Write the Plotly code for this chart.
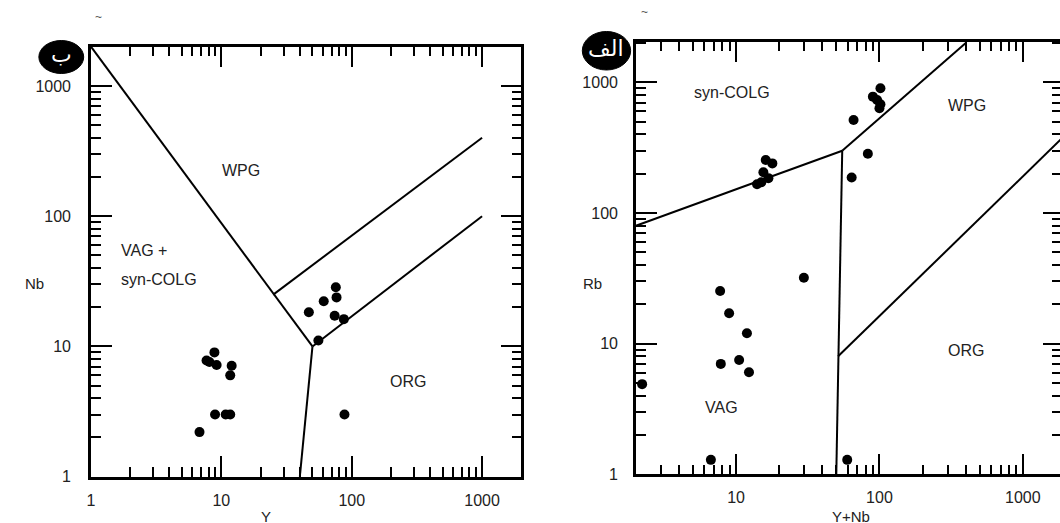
import math
import plotly.graph_objects as go

W, H = 1060, 523          # target picture size (px)
H_LAYOUT = 532            # layout height (the capture is squeezed to 523)

# ---------------- data ----------------
# Left diagram: Nb vs Y (Pearce et al. 1984)
y_left = [46.9, 61.0, 75.5, 76.5, 74.0, 87.0, 55.5, 8.85, 7.7, 8.1, 9.2, 12.0, 11.7, 8.95, 10.8, 11.7, 6.8, 88.0]
nb_left = [18.3, 22.2, 28.5, 23.8, 17.2, 16.2, 11.1, 9.0, 7.8, 7.6, 7.2, 7.1, 6.0, 3.0, 3.0, 3.0, 2.2, 3.0]

# Right diagram: Rb vs Y+Nb
ynb_right = [101.6, 90.0, 96.3, 101.6, 100.0, 66.0, 83.0, 64.0, 16.1, 17.9, 15.5, 16.8, 14.0, 15.0,
             29.7, 7.74, 8.94, 11.9, 7.82, 10.5, 12.3, 2.21, 6.67, 59.6]
rb_right = [903, 778, 734, 681, 634, 516, 284, 187, 255, 240, 205, 185, 166, 172,
            32, 25.3, 17.1, 12.0, 7.0, 7.5, 6.04, 4.9, 1.29, 1.29]

# discrimination boundaries
left_bounds = [
    ([1, 50], [2000, 10]),
    ([50, 1000], [10, 100]),
    ([50, 40], [10, 1]),
    ([25, 1000], [25, 400]),
]
right_bounds = [
    ([2, 55], [80, 300]),
    ([55, 400], [300, 2000]),
    ([55, 51.5, 50], [300, 8, 1]),
    ([51.5, 2000], [8, 400]),
]

tick_vals = [1, 10, 100, 1000]
tick_text = ["1", "10", "100", "1000"]

# ---------------- figure ----------------
FONT = "Liberation Sans, Arial, sans-serif"
TXT = "#222222"
fig = go.Figure()

for xs, ys in left_bounds:
    fig.add_trace(go.Scatter(x=xs, y=ys, mode="lines", line=dict(color="black", width=2),
                             xaxis="x", yaxis="y", showlegend=False, hoverinfo="skip"))
fig.add_trace(go.Scatter(x=y_left, y=nb_left, mode="markers",
                         marker=dict(color="black", size=10), xaxis="x", yaxis="y",
                         showlegend=False, cliponaxis=False))

for xs, ys in right_bounds:
    fig.add_trace(go.Scatter(x=xs, y=ys, mode="lines", line=dict(color="black", width=2),
                             xaxis="x2", yaxis="y2", showlegend=False, hoverinfo="skip"))
fig.add_trace(go.Scatter(x=ynb_right, y=rb_right, mode="markers",
                         marker=dict(color="black", size=10), xaxis="x2", yaxis="y2",
                         showlegend=False, cliponaxis=False))

def px(x):
    return x / W

def py(y):
    return 1 - y / H

minor = dict(ticks="inside", ticklen=10, tickwidth=2, tickcolor="black", dtick="D1")
common = dict(type="log", showgrid=False, zeroline=False, showline=True, linecolor="black",
              linewidth=2.5, ticks="inside", ticklen=21, tickwidth=2, tickcolor="black",
              tickvals=tick_vals, ticktext=tick_text,
              tickfont=dict(family=FONT, size=16, color=TXT), minor=minor)

fig.update_layout(
    width=W, height=H_LAYOUT, margin=dict(l=0, r=0, t=0, b=0),
    paper_bgcolor="white", plot_bgcolor="white", showlegend=False,
    xaxis=dict(common, domain=[px(87.3), px(519.3)], range=[0, math.log10(2000)],
               mirror="ticks", anchor="y", ticklabelstandoff=7),
    yaxis=dict(common, domain=[py(476.7), py(46.7)], range=[0, math.log10(2000)],
               mirror="ticks", anchor="x", ticklabelstandoff=14),
    xaxis2=dict(common, domain=[px(634.3), 1.0], range=[math.log10(2), 3.2596],
                mirror="ticks", anchor="y2", ticklabelstandoff=7),
    yaxis2=dict(common, domain=[py(474.3), py(41.7)], range=[0, math.log10(2050)],
                mirror=False, anchor="x2", ticklabelstandoff=12),
    yaxis3=dict(type="log", overlaying="y2", side="right", anchor="x2",
                range=[0, math.log10(2050)], showgrid=False, zeroline=False, showline=False,
                ticks="inside", ticklen=17, tickwidth=2, tickcolor="black",
                tickvals=tick_vals, showticklabels=False,
                minor=dict(ticks="inside", ticklen=8, tickwidth=2, tickcolor="black", dtick="D1")),
)
# invisible helper trace so the mirrored right-hand tick axis is drawn
fig.add_trace(go.Scatter(x=[10], y=[10], mode="markers", marker=dict(opacity=0),
                         xaxis="x2", yaxis="y3", showlegend=False, hoverinfo="skip"))

def label(text, x, y, size=16, xanchor="center", color=TXT, family=FONT):
    fig.add_annotation(text=text, x=px(x), y=py(y), xref="paper", yref="paper",
                       showarrow=False, xanchor=xanchor, yanchor="middle",
                       font=dict(family=family, size=size, color=color))

# left panel labels
label("WPG", 238, 170)
label("VAG +", 115, 250, xanchor="left")
label("syn-COLG", 115, 279, xanchor="left")
label("ORG", 406, 381)
label("Nb", 31, 283, size=15)
label("Y", 263, 516, size=15)
# right panel labels
label("syn-COLG", 731, 93)
label("WPG", 967, 105)
label("ORG", 966, 350)
label("VAG", 720, 407)
label("Rb", 591, 283, size=15)
label("Y+Nb", 850, 516, size=15)
# small tildes
label("~", 95, 17, size=12, color="#555555")
label("~", 643, 12, size=12, color="#555555")

# badges
for (x0, y0, x1, y1, txt) in [(35, 40.5, 80, 73.5, "ب"), (580.5, 31.5, 629, 70, "الف")]:
    fig.add_shape(type="circle", xref="paper", yref="paper",
                  x0=px(x0), x1=px(x1), y0=py(y1), y1=py(y0),
                  fillcolor="black", line=dict(color="black", width=1))
    fig.add_annotation(text=txt, x=px((x0 + x1) / 2), y=py((y0 + y1) / 2 - 2),
                       xref="paper", yref="paper", showarrow=False,
                       xanchor="center", yanchor="middle",
                       font=dict(family="DejaVu Sans", size=22, color="white"))

fig.write_html(
    "out.html",
    config={"displayModeBar": False},
    post_script=(
        "document.documentElement.style.margin='0';"
        "document.documentElement.style.overflow='hidden';"
        "document.body.style.margin='0';"
        "document.body.style.overflow='hidden';"
    ),
)
